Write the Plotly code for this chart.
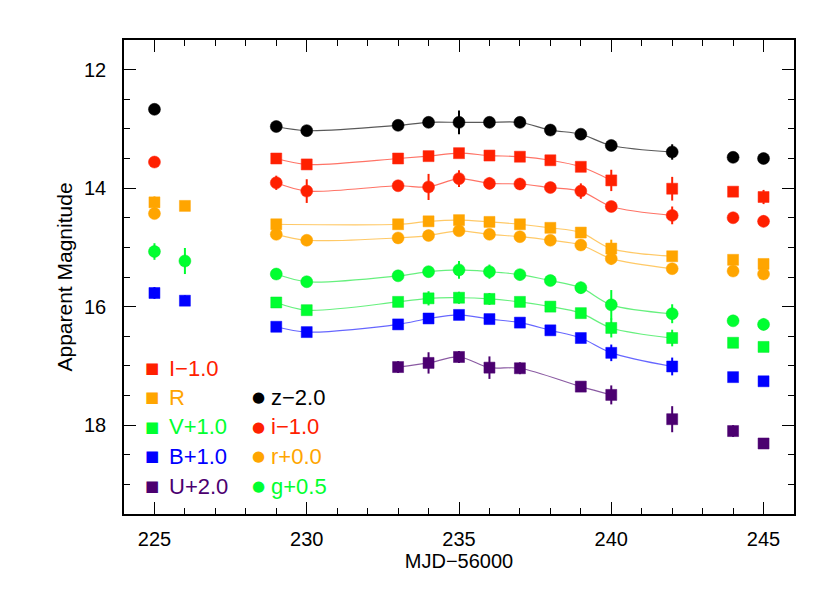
import plotly.graph_objects as go

days = [225, 226, 229, 230, 233, 234, 235, 236, 237, 238, 239, 240, 242, 244, 245]

z_mag = [12.67, None, 12.96, 13.03, 12.94, 12.89, 12.89, 12.89, 12.89, 13.02, 13.09, 13.28, 13.39, 13.48, 13.50]
z_err = [0.08, None, 0.05, 0.08, 0.05, 0.05, 0.20, 0.05, 0.05, 0.05, 0.05, 0.08, 0.13, 0.03, 0.03]

I_mag = [None, None, 13.50, 13.60, 13.50, 13.46, 13.41, 13.45, 13.47, 13.53, 13.64, 13.87, 14.01, 14.06, 14.15]
I_err = [None, None, 0.04, 0.07, 0.05, 0.05, 0.05, 0.08, 0.05, 0.05, 0.05, 0.18, 0.20, 0.04, 0.12]

i_mag = [13.56, None, 13.91, 14.05, 13.96, 13.98, 13.84, 13.92, 13.93, 13.99, 14.05, 14.31, 14.46, 14.50, 14.56]
i_err = [0.05, None, 0.12, 0.20, 0.08, 0.22, 0.14, 0.10, 0.10, 0.05, 0.13, 0.05, 0.15, 0.05, 0.10]

R_mag = [14.24, 14.30, 14.61, None, 14.61, 14.56, 14.54, 14.57, 14.61, 14.67, 14.75, 15.02, 15.15, 15.21, 15.28]
R_err = [0.10, 0.04, 0.07, None, 0.05, 0.05, 0.05, 0.05, 0.05, 0.05, 0.05, 0.15, 0.08, 0.04, 0.08]

r_mag = [14.43, None, 14.78, 14.88, 14.84, 14.80, 14.72, 14.78, 14.82, 14.88, 14.96, 15.19, 15.36, 15.40, 15.45]
r_err = [0.05, None, 0.05, 0.05, 0.05, 0.05, 0.05, 0.08, 0.05, 0.05, 0.05, 0.10, 0.08, 0.04, 0.05]

g_mag = [15.07, 15.23, 15.45, 15.58, 15.48, 15.41, 15.38, 15.41, 15.46, 15.56, 15.68, 15.97, 16.12, 16.24, 16.30]
g_err = [0.14, 0.22, 0.05, 0.05, 0.06, 0.07, 0.15, 0.12, 0.05, 0.06, 0.10, 0.25, 0.16, 0.04, 0.10]

V_mag = [None, None, 15.93, 16.06, 15.92, 15.86, 15.85, 15.87, 15.92, 16.00, 16.11, 16.36, 16.53, 16.61, 16.68]
V_err = [None, None, 0.05, 0.05, 0.06, 0.12, 0.10, 0.10, 0.08, 0.05, 0.05, 0.16, 0.14, 0.04, 0.04]

B_mag = [15.77, 15.90, 16.34, 16.43, 16.30, 16.20, 16.14, 16.21, 16.27, 16.40, 16.53, 16.78, 17.01, 17.19, 17.26]
B_err = [0.10, 0.09, 0.05, 0.05, 0.05, 0.05, 0.04, 0.05, 0.05, 0.05, 0.05, 0.14, 0.15, 0.04, 0.04]

U_mag = [None, None, None, None, 17.02, 16.95, 16.85, 17.03, 17.04, None, 17.35, 17.49, 17.90, 18.10, 18.31]
U_err = [None, None, None, None, 0.10, 0.18, 0.10, 0.19, 0.10, None, 0.05, 0.16, 0.22, 0.10, 0.06]

# name, mags, errs, color, line color, symbol, fit start, fit end
series = [
    ("z-2.0", z_mag, z_err, "#000000", "rgba(0,0,0,0.65)", "circle", 229, 242),
    ("I-1.0", I_mag, I_err, "#FF2000", "rgba(255,40,20,0.65)", "square", 229, 240),
    ("i-1.0", i_mag, i_err, "#FF2000", "rgba(255,40,20,0.65)", "circle", 229, 242),
    ("R", R_mag, R_err, "#FFA500", "rgba(255,165,0,0.6)", "square", 229, 242),
    ("r+0.0", r_mag, r_err, "#FFA500", "rgba(255,165,0,0.6)", "circle", 229, 242),
    ("g+0.5", g_mag, g_err, "#00FF30", "rgba(0,230,40,0.6)", "circle", 229, 242),
    ("V+1.0", V_mag, V_err, "#00FF30", "rgba(0,230,40,0.6)", "square", 229, 242),
    ("B+1.0", B_mag, B_err, "#0000FF", "rgba(0,0,255,0.6)", "square", 229, 242),
    ("U+2.0", U_mag, U_err, "#4B0070", "rgba(75,0,112,0.65)", "square", 233, 240),
]

legend_sq = [("I\u22121.0", "#FF2000"), ("R", "#FFA500"), ("V+1.0", "#00FF30"),
             ("B+1.0", "#0000FF"), ("U+2.0", "#4B0070")]
legend_ci = [("z\u22122.0", "#000000"), ("i\u22121.0", "#FF2000"),
             ("r+0.0", "#FFA500"), ("g+0.5", "#00FF30")]

fig = go.Figure()

# smooth fit curves
for name, mags, errs, col, lcol, sym, s, e in series:
    xs = [d for d, m in zip(days, mags) if m is not None and s <= d <= e]
    ys = [m for d, m in zip(days, mags) if m is not None and s <= d <= e]
    fig.add_trace(go.Scatter(x=xs, y=ys, mode="lines",
                             line=dict(color=lcol, width=1.2, shape="spline", smoothing=0.9),
                             hoverinfo="skip", showlegend=False))

# data points
for name, mags, errs, col, lcol, sym, s, e in series:
    xs = [d for d, m in zip(days, mags) if m is not None]
    ys = [m for m in mags if m is not None]
    es = [er for m, er in zip(mags, errs) if m is not None]
    size = 12 if sym == "circle" else 11
    fig.add_trace(go.Scatter(x=xs, y=ys, mode="markers", name=name,
                             marker=dict(symbol=sym, size=size, color=col,
                                         line=dict(width=0.8, color=lcol)),
                             error_y=dict(type="data", array=es, visible=True,
                                          color=col, thickness=2, width=0),
                             showlegend=False))

font_family = "Liberation Sans"

annotations = []
row_y = [0.308, 0.246, 0.184, 0.122, 0.059]
for k, (lab, col) in enumerate(legend_sq):
    annotations.append(dict(x=0.042, y=row_y[k], xref="paper", yref="paper",
                            text="\u25A0", showarrow=False, xanchor="center", yanchor="middle",
                            font=dict(size=15, color=col, family="DejaVu Sans")))
    annotations.append(dict(x=0.064, y=row_y[k], xref="paper", yref="paper",
                            text=lab, showarrow=False, xanchor="left", yanchor="middle",
                            font=dict(size=22, color=col, family=font_family)))
for k, (lab, col) in enumerate(legend_ci):
    annotations.append(dict(x=0.2, y=row_y[k + 1], xref="paper", yref="paper",
                            text="\u25CF", showarrow=False, xanchor="center", yanchor="middle",
                            font=dict(size=15, color=col, family="DejaVu Sans")))
    annotations.append(dict(x=0.217, y=row_y[k + 1], xref="paper", yref="paper",
                            text=lab, showarrow=False, xanchor="left", yanchor="middle",
                            font=dict(size=22, color=col, family=font_family)))

fig.update_layout(
    width=822, height=585,
    margin=dict(l=116, r=36, t=32, b=79),
    paper_bgcolor="white", plot_bgcolor="white",
    font=dict(family=font_family, size=19, color="black"),
    annotations=annotations,
    showlegend=False,
)
fig.update_xaxes(range=[224, 246], tick0=225, dtick=5, ticks="inside", ticklen=12,
                 tickwidth=1.2, tickcolor="black", showline=True, linecolor="black",
                 linewidth=1.5, mirror="ticks", showgrid=False, zeroline=False,
                 minor=dict(dtick=1, ticklen=6, tickwidth=1, tickcolor="black", ticks="inside"),
                 title=dict(text="MJD\u221256000", font=dict(size=20), standoff=4),
                 tickfont=dict(size=20), ticklabelstandoff=6)
fig.update_yaxes(range=[19.5, 11.5], tick0=12, dtick=2, ticks="inside", ticklen=12,
                 tickwidth=1.2, tickcolor="black", showline=True, linecolor="black",
                 linewidth=1.5, mirror="ticks", showgrid=False, zeroline=False,
                 minor=dict(dtick=0.5, ticklen=6, tickwidth=1, tickcolor="black", ticks="inside"),
                 title=dict(text="Apparent Magnitude", font=dict(size=21), standoff=6),
                 tickfont=dict(size=20), ticklabelstandoff=12)

fig.write_html("out.html")
